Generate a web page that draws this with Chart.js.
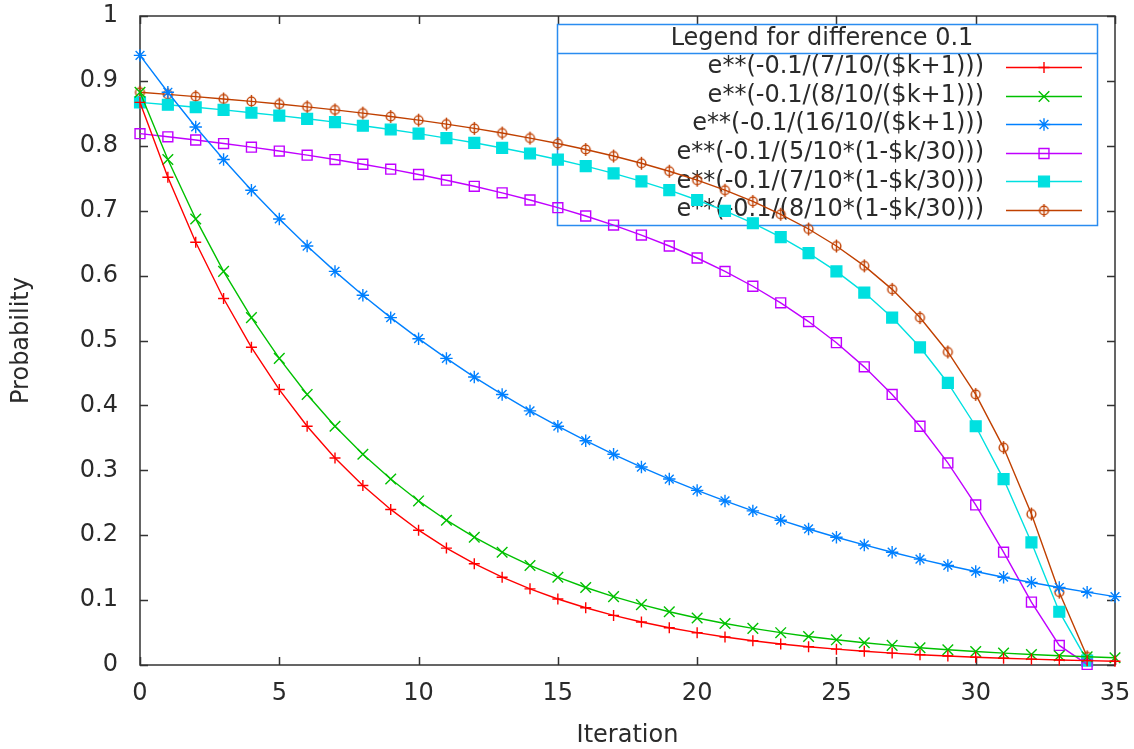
<!DOCTYPE html>
<html>
<head>
<meta charset="utf-8">
<script src="https://cdn.jsdelivr.net/npm/chart.js@4/dist/chart.umd.min.js"></script>
<style>
  html, body { margin: 0; padding: 0; background: #ffffff; }
  #wrap { width: 1134px; height: 749px; }
</style>
</head>
<body>
<div id="wrap"><canvas id="c" width="1134" height="749"></canvas></div>
<script>
// ---- data ----
const iterations = [0,1,2,3,4,5,6,7,8,9,10,11,12,13,14,15,16,17,18,19,20,21,22,23,24,25,26,27,28,29,30,31,32,33,34,35];

const seriesLabels = [
  "e**(-0.1/(7/10/($k+1)))",
  "e**(-0.1/(8/10/($k+1)))",
  "e**(-0.1/(16/10/($k+1)))",
  "e**(-0.1/(5/10*(1-$k/30)))",
  "e**(-0.1/(7/10*(1-$k/30)))",
  "e**(-0.1/(8/10*(1-$k/30)))"
];

const red = [0.8669,0.7515,0.6514,0.5647,0.4895,0.4244,0.3679,0.3189,0.2765,0.2397,0.2077,0.1801,0.1561,0.1353,0.1173,0.1017,0.0882,0.0764,0.0663,0.0574,0.0498,0.0432,0.0374,0.0324,0.0281,0.0244,0.0211,0.0183,0.0159,0.0138,0.0119,0.0103,0.0090,0.0078,0.0067,0.0058];
const green = [0.8825,0.7788,0.6873,0.6065,0.5353,0.4724,0.4169,0.3679,0.3247,0.2865,0.2528,0.2231,0.1969,0.1738,0.1534,0.1353,0.1194,0.1054,0.0930,0.0821,0.0724,0.0639,0.0564,0.0498,0.0439,0.0388,0.0342,0.0302,0.0266,0.0235,0.0207,0.0183,0.0161,0.0143,0.0126,0.0111];
const blue = [0.9394,0.8825,0.8290,0.7788,0.7316,0.6873,0.6456,0.6065,0.5698,0.5353,0.5028,0.4724,0.4437,0.4169,0.3916,0.3679,0.3456,0.3247,0.3050,0.2865,0.2691,0.2528,0.2375,0.2231,0.2096,0.1969,0.1850,0.1738,0.1632,0.1534,0.1441,0.1353,0.1271,0.1194,0.1122,0.1054];
const purple = [0.8187,0.8139,0.8089,0.8035,0.7979,0.7919,0.7856,0.7788,0.7716,0.7640,0.7558,0.7470,0.7376,0.7275,0.7165,0.7047,0.6918,0.6778,0.6625,0.6456,0.6271,0.6065,0.5836,0.5580,0.5292,0.4966,0.4594,0.4169,0.3679,0.3114,0.2466,0.1738,0.0970,0.0302,0.0009];
const cyan = [0.8669,0.8632,0.8594,0.8553,0.8510,0.8465,0.8416,0.8365,0.8309,0.8251,0.8187,0.8119,0.8046,0.7967,0.7881,0.7788,0.7686,0.7575,0.7452,0.7316,0.7165,0.6997,0.6807,0.6592,0.6347,0.6065,0.5738,0.5353,0.4895,0.4346,0.3679,0.2865,0.1889,0.0821,0.0067];
const brown = [0.8825,0.8793,0.8758,0.8722,0.8684,0.8643,0.8600,0.8553,0.8504,0.8451,0.8395,0.8334,0.8268,0.8197,0.8119,0.8035,0.7943,0.7842,0.7731,0.7608,0.7470,0.7316,0.7143,0.6945,0.6718,0.6456,0.6150,0.5788,0.5353,0.4823,0.4169,0.3350,0.2326,0.1122,0.0126];

const xTickValues = [0,5,10,15,20,25,30,35];
const xTickLabels = ["0","5","10","15","20","25","30","35"];
const yTickValues = [0,0.1,0.2,0.3,0.4,0.5,0.6,0.7,0.8,0.9,1];
const yTickLabels = ["0","0.1","0.2","0.3","0.4","0.5","0.6","0.7","0.8","0.9","1"];

const xTitle = "Iteration";
const yTitle = "Probability";
const legendTitle = "Legend for difference 0.1";

// ---- styling ----
const FONT = "'DejaVu Sans', sans-serif";
const TEXT = '#2a2a2a';
const colors = ["#ff0000", "#00c000", "#0080ff", "#c000ff", "#00e0e0", "#c04000"];

function circlePlus(color) {
  const c = document.createElement('canvas');
  c.width = 15; c.height = 15;
  const g = c.getContext('2d');
  g.strokeStyle = color; g.lineWidth = 1.4;
  g.beginPath(); g.arc(7.5, 7.5, 4.4, 0, Math.PI * 2); g.stroke();
  g.beginPath(); g.moveTo(7.5, 1); g.lineTo(7.5, 14); g.stroke();
  return c;
}

const pointStyles = ['cross', 'crossRot', 'star', 'rect', 'rect', circlePlus(colors[5])];
const pointRadii = [5.5, 7.5, 6.2, 7, 7.6, 7.5];
const pointFills = [colors[0], colors[1], colors[2], 'rgba(0,0,0,0)', colors[4], 'rgba(0,0,0,0)'];

const seriesValues = [red, green, blue, purple, cyan, brown];
const datasets = seriesValues.map((vals, i) => ({
  label: seriesLabels[i],
  data: vals.map((v, j) => ({x: iterations[j], y: v})),
  borderColor: colors[i],
  backgroundColor: pointFills[i],
  borderWidth: 1.4,
  pointStyle: pointStyles[i],
  pointRadius: pointRadii[i],
  pointHoverRadius: pointRadii[i],
  pointBorderColor: colors[i],
  pointBackgroundColor: pointFills[i],
  pointBorderWidth: 1.4,
  fill: false,
  tension: 0,
  clip: false
}));

// frame, mirrored inward ticks, custom gnuplot-like key
const framePlugin = {
  id: 'frame',
  beforeDatasetsDraw(chart) {
    const {ctx, chartArea: a, scales: {x, y}} = chart;
    ctx.save();
    ctx.strokeStyle = '#333333';
    ctx.lineWidth = 1.5;
    ctx.beginPath();
    const T = 8;
    xTickValues.forEach(v => {
      const px = Math.round(x.getPixelForValue(v)) + 0.5;
      ctx.moveTo(px, a.bottom); ctx.lineTo(px, a.bottom - T);
      ctx.moveTo(px, a.top); ctx.lineTo(px, a.top + T);
    });
    yTickValues.forEach(v => {
      const py = Math.round(y.getPixelForValue(v)) + 0.5;
      ctx.moveTo(a.left, py); ctx.lineTo(a.left + T, py);
      ctx.moveTo(a.right, py); ctx.lineTo(a.right - T, py);
    });
    ctx.stroke();
    ctx.strokeRect(a.left, a.top, a.right - a.left, a.bottom - a.top);

    // key box
    const L = 557.5, R = 1097.5, TOP = 24.5, SEP = 53.5, BOT = 225.5;
    ctx.strokeStyle = '#2a8cf0';
    ctx.lineWidth = 1.5;
    ctx.strokeRect(L, TOP, R - L, BOT - TOP);
    ctx.beginPath(); ctx.moveTo(L, SEP); ctx.lineTo(R, SEP); ctx.stroke();
    ctx.fillStyle = TEXT;
    ctx.font = '24px ' + FONT;
    ctx.textBaseline = 'middle';
    ctx.textAlign = 'center';
    ctx.fillText(legendTitle, 822, 39);
    ctx.textAlign = 'right';
    chart.data.datasets.forEach((ds, i) => {
      const cy = 67 + i * 28.6;
      ctx.fillStyle = TEXT;
      ctx.fillText(ds.label, 984, cy);
      ctx.strokeStyle = ds.borderColor;
      ctx.lineWidth = ds.borderWidth;
      ctx.beginPath(); ctx.moveTo(1006, Math.round(cy) + 0.5); ctx.lineTo(1082, Math.round(cy) + 0.5); ctx.stroke();
      ctx.fillStyle = ds.pointBackgroundColor;
      ctx.strokeStyle = ds.pointBorderColor;
      ctx.lineWidth = ds.pointBorderWidth;
      if (Chart.helpers && Chart.helpers.drawPoint) {
        Chart.helpers.drawPoint(ctx, {pointStyle: ds.pointStyle, radius: ds.pointRadius, rotation: 0, borderWidth: ds.pointBorderWidth}, 1044, Math.round(cy) + 0.5);
      }
    });
    ctx.restore();
  }
};

new Chart(document.getElementById('c'), {
  type: 'line',
  data: { datasets },
  plugins: [framePlugin],
  options: {
    responsive: false,
    animation: false,
    events: [],
    layout: { padding: { left: 0, right: 19, top: 16, bottom: 0 } },
    plugins: { legend: { display: false }, tooltip: { enabled: false } },
    scales: {
      x: {
        type: 'linear', min: 0, max: 35,
        grid: { display: false, drawTicks: false },
        border: { display: false },
        afterBuildTicks: s => { s.ticks = xTickValues.map(v => ({value: v})); },
        afterFit: s => { s.height = 84; s.paddingLeft = 0; s.paddingRight = 0; },
        ticks: {
          padding: 14, color: TEXT, font: { family: FONT, size: 24 }, maxRotation: 0,
          callback: (v) => xTickLabels[xTickValues.indexOf(v)]
        },
        title: { display: true, text: xTitle, color: TEXT, font: { family: FONT, size: 24, lineHeight: 1 }, padding: { top: 0, bottom: 1 } }
      },
      y: {
        type: 'linear', min: 0, max: 1,
        grid: { display: false, drawTicks: false },
        border: { display: false },
        afterBuildTicks: s => { s.ticks = yTickValues.map(v => ({value: v})); },
        afterFit: s => { s.width = 140; s.paddingTop = 0; s.paddingBottom = 0; },
        ticks: {
          padding: 22, color: TEXT, font: { family: FONT, size: 24 },
          callback: (v) => yTickLabels[yTickValues.indexOf(v)]
        },
        title: { display: true, text: yTitle, color: TEXT, font: { family: FONT, size: 24, lineHeight: 1 }, padding: { top: 10, bottom: 0 } }
      }
    }
  }
});
</script>
</body>
</html>
